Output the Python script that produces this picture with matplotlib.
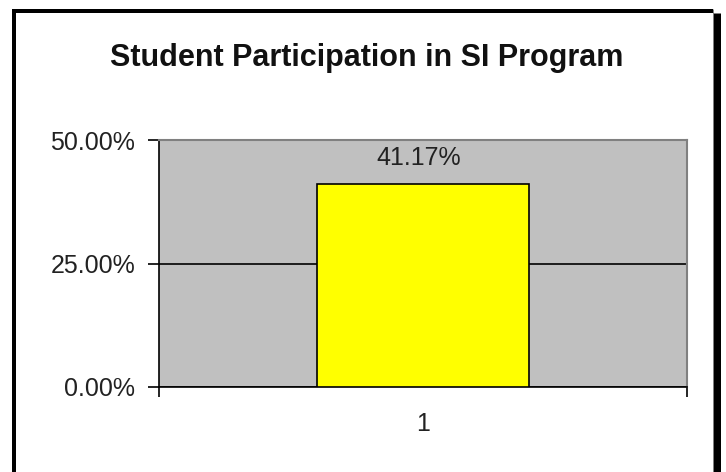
import matplotlib
matplotlib.use("Agg")
import matplotlib.pyplot as plt
from matplotlib.lines import Line2D
from matplotlib.ticker import FixedLocator, FuncFormatter

# chart data
categories = ["1"]
participation = [41.17]
y_ticks = [0, 25, 50]

W, H = 726, 472
plt.rcParams['font.family'] = ['Liberation Sans', 'DejaVu Sans']

fig = plt.figure(figsize=(W / 100, H / 100), dpi=100)
fig.patch.set_facecolor('white')

ax = fig.add_axes([159 / W, 1 - 387 / H, 528 / W, 247 / H])
ax.set_facecolor('#C0C0C0')

xpos = list(range(1, len(categories) + 1))
bars = ax.bar(xpos, participation, width=0.4, color='#FFFF00',
              edgecolor='black', linewidth=1.2, zorder=3)

for x, v in zip(xpos, participation):
    ax.annotate(f'{v:.2f}%', (x, v), xytext=(-3, 10), textcoords='offset points',
                ha='center', va='bottom', fontsize=18, color='#222222')

ax.set_xlim(0.5, len(categories) + 0.5)
ax.set_ylim(0, 50)

ax.set_yticks(y_ticks)
ax.yaxis.set_major_formatter(FuncFormatter(lambda v, p: f'{v:.2f}%'))
ax.tick_params(axis='y', direction='out', length=8, width=1.2, pad=9,
               labelsize=18, colors='black', labelcolor='#222222')

ax.set_xticks(xpos)
ax.set_xticklabels(categories)
ax.xaxis.set_minor_locator(FixedLocator([0.5, len(categories) + 0.5]))
ax.tick_params(axis='x', which='major', length=0, pad=18, labelsize=18,
               labelcolor='#222222')
ax.tick_params(axis='x', which='minor', direction='out', length=7, width=1.2)

ax.set_axisbelow(True)
ax.yaxis.grid(True, color='black', linewidth=1.2)

for side in ['left', 'bottom']:
    ax.spines[side].set_color('black')
    ax.spines[side].set_linewidth(1.2)
for side in ['top', 'right']:
    ax.spines[side].set_color('#808080')
    ax.spines[side].set_linewidth(1.5)

fig.text(367 / W, 1 - 58 / H, 'Student Participation in SI Program',
         ha='center', va='center', fontsize=22, fontweight='bold', color='#111111')

# chart frame with shadow on the right
px = 72 / 100
fig.add_artist(Line2D([14 / W, 14 / W], [1 - 9 / H, 0], transform=fig.transFigure,
                      color='black', linewidth=4 * px, solid_capstyle='butt'))
fig.add_artist(Line2D([12 / W, 713 / W], [1 - 11 / H, 1 - 11 / H], transform=fig.transFigure,
                      color='black', linewidth=4 * px, solid_capstyle='butt'))
fig.add_artist(Line2D([716.5 / W, 716.5 / W], [1 - 13 / H, 0], transform=fig.transFigure,
                      color='black', linewidth=7 * px, solid_capstyle='butt'))
fig.add_artist(Line2D([713 / W, 713 / W], [1 - 9 / H, 0], transform=fig.transFigure,
                      color='#808080', linewidth=1 * px, solid_capstyle='butt'))

fig.savefig('out.png', dpi=100)
